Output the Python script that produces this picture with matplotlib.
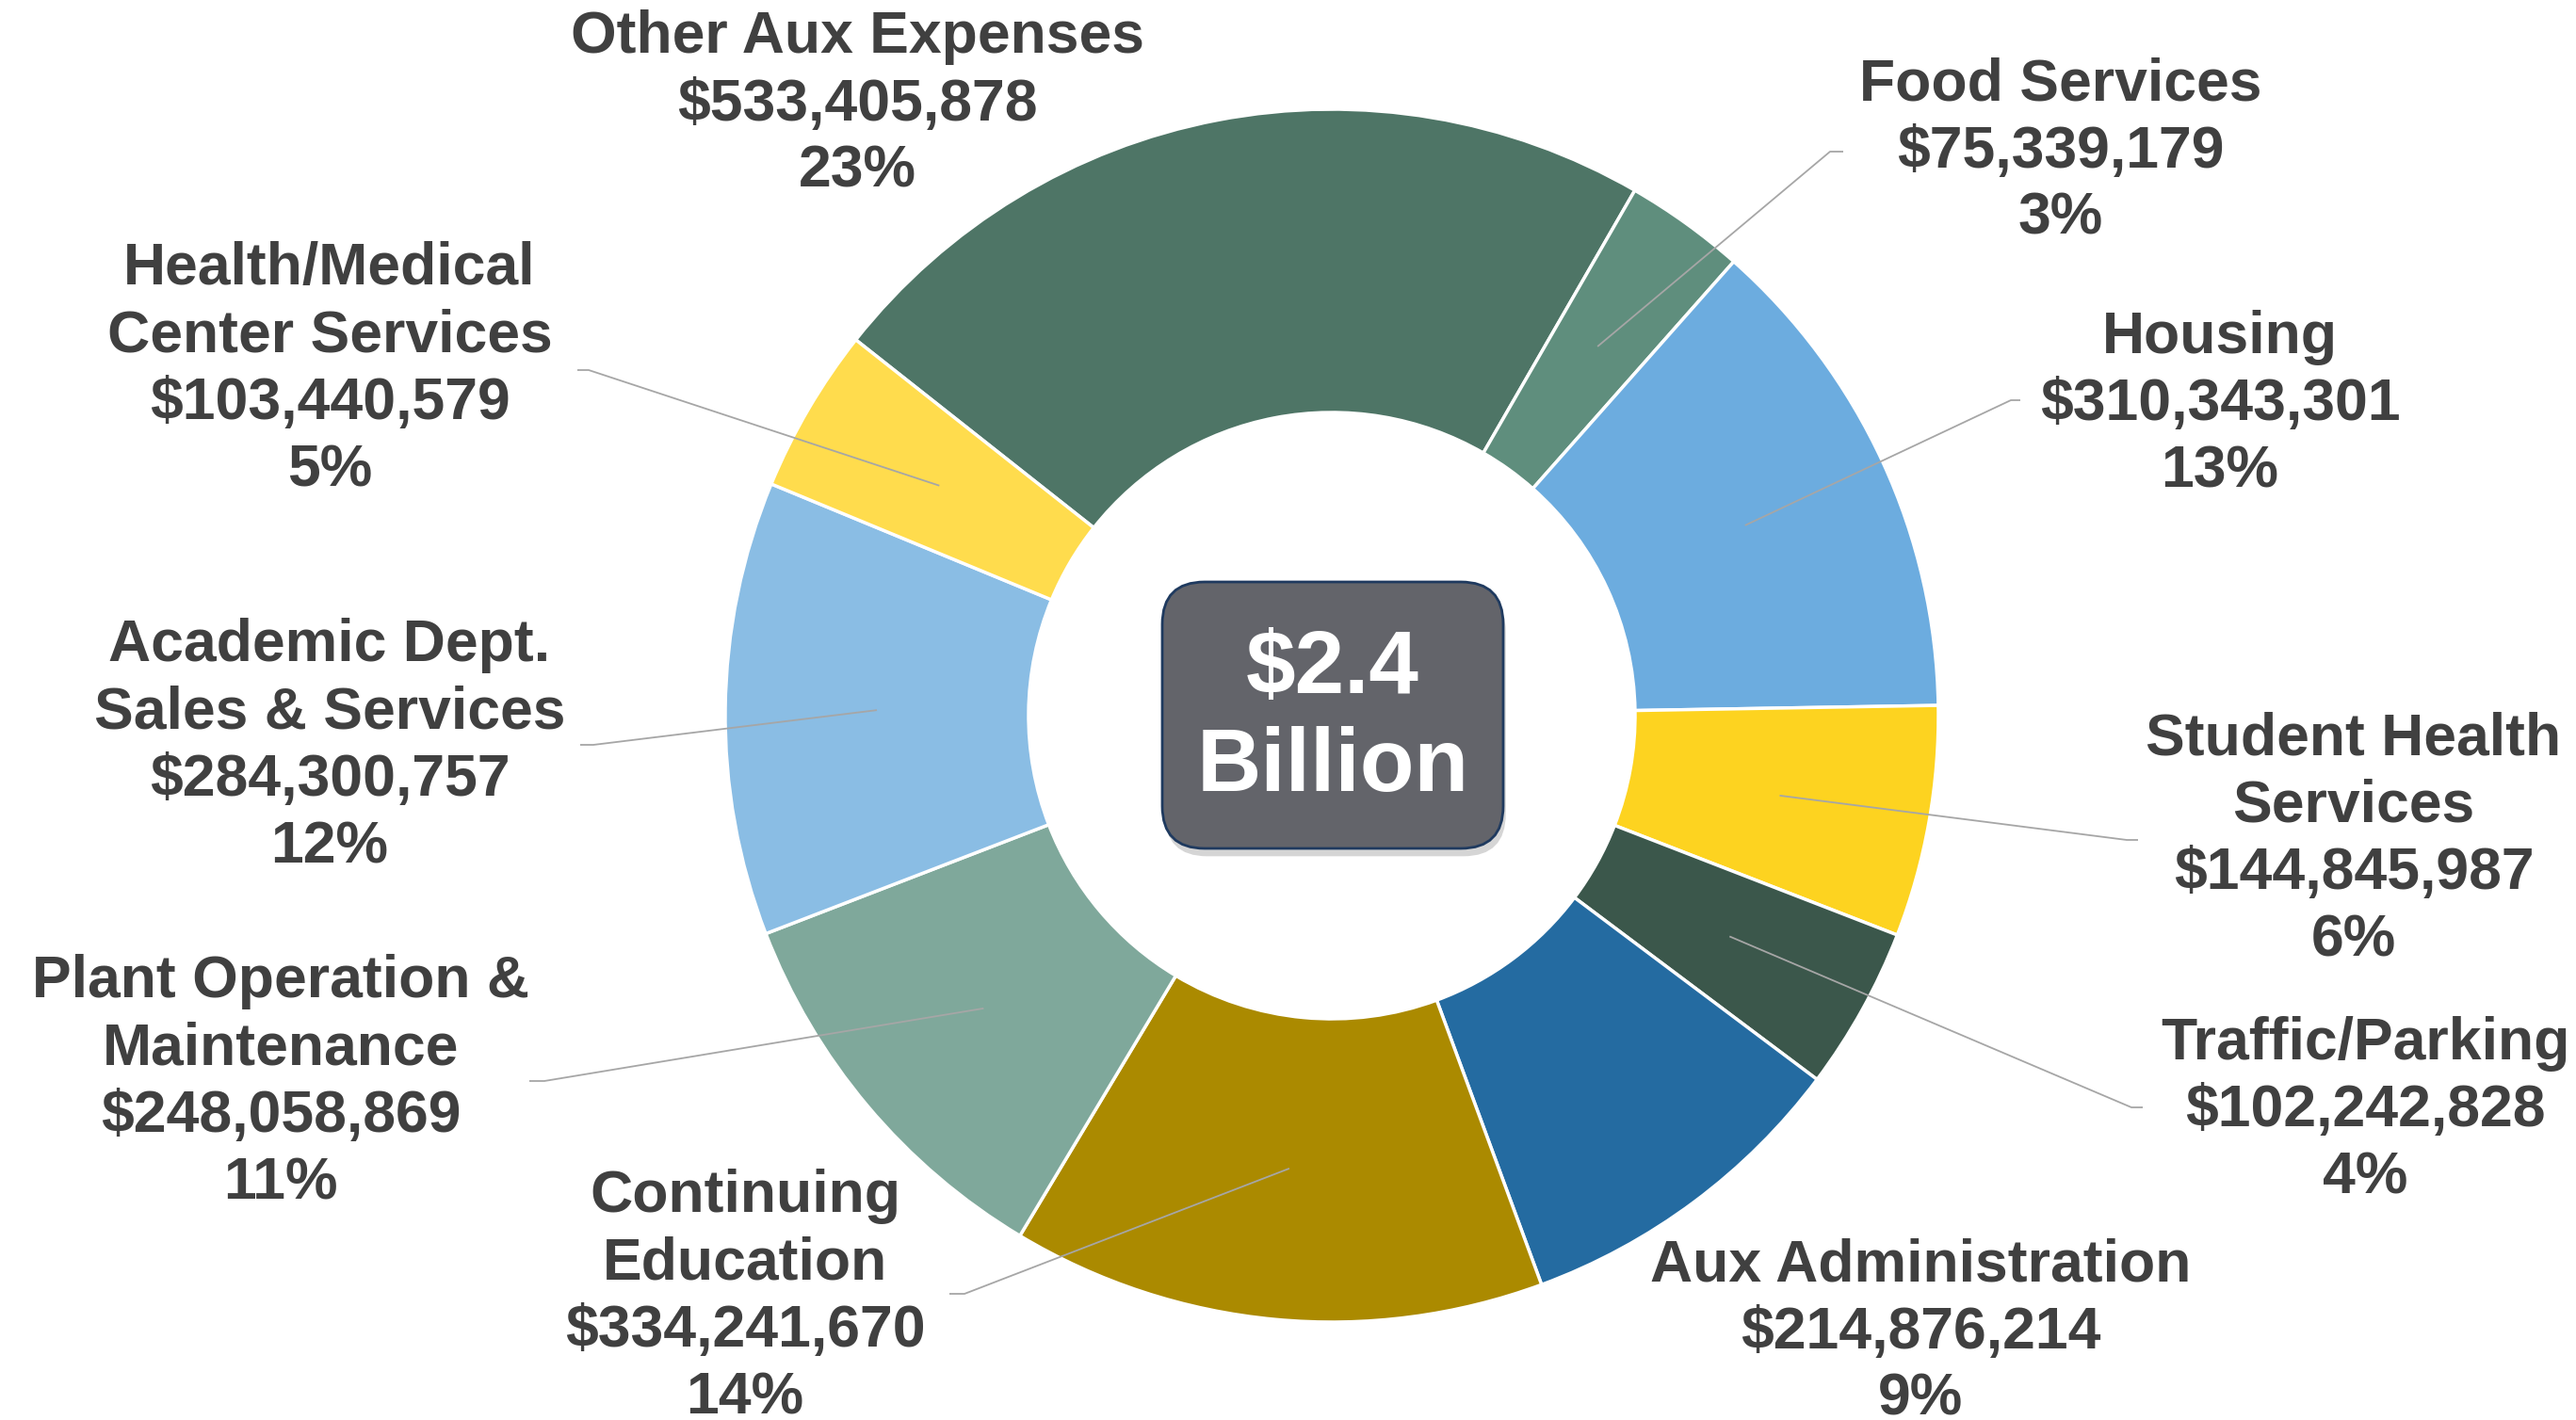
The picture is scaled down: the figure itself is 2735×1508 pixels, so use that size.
import numpy as np
import matplotlib
matplotlib.use("Agg")
import matplotlib.pyplot as plt
from matplotlib.patches import FancyBboxPatch
import matplotlib.patheffects as pe

plt.rcParams['font.family'] = ['Liberation Sans', 'DejaVu Sans']

# data, clockwise starting with Other Aux Expenses
names = ["Other Aux Expenses", "Food Services", "Housing", "Student Health\nServices",
         "Traffic/Parking", "Aux Administration", "Continuing\nEducation",
         "Plant Operation &\nMaintenance", "Academic Dept.\nSales & Services",
         "Health/Medical\nCenter Services"]
amounts = [533405878, 75339179, 310343301, 144845987, 102242828,
           214876214, 334241670, 248058869, 284300757, 103440579]
pct_labels = ["23%", "3%", "13%", "6%", "4%", "9%", "14%", "11%", "12%", "5%"]
colors = ["#4E7566", "#5F8E7D", "#6CACDF", "#FDD320", "#3B574B",
          "#246BA1", "#AB8A00", "#7FA89B", "#8ABDE4", "#FFDC4D"]
center_text = "$2.4\nBillion"

W, H = 2735, 1508
fig = plt.figure(figsize=(W / 100, H / 100), dpi=100)
ax = fig.add_axes([0, 0, 1, 1])
ax.set_xlim(0, W)
ax.set_ylim(0, H)
ax.set_aspect('equal')
ax.axis('off')

cx, cy, R = 1414, H - 760, 644
wedges, _ = ax.pie(amounts, colors=colors, startangle=141.7, counterclock=False,
                   center=(cx, cy), radius=R, frame=True,
                   wedgeprops=dict(width=R * 0.5, edgecolor='white', linewidth=2.5))
ax.set_xlim(0, W)
ax.set_ylim(0, H)
ax.axis('off')

# label positions (x, y from top) and leader elbows (None = no leader)
label_pos = [(910, 111), (2188, 161), (2357, 430), (2499, 892), (2511, 1180),
             (2039, 1415), (791, 1378), (298, 1150), (350, 793), (350, 393)]
elbows = [None, (1943, 161, 14), (2135, 425, 10), (2258, 892, 12), (2263, 1176, 12),
          None, (1024, 1374, -16), (578, 1148, -16), (630, 791, -14), (625, 393, -12)]

for w, name, amt, pct, (lx, ly), el in zip(wedges, names, amounts, pct_labels, label_pos, elbows):
    txt = f"{name}\n${amt:,}\n{pct}"
    ax.text(lx, H - ly, txt, ha='center', va='center', ma='center',
            fontsize=45, fontweight='bold', color='#404040', linespacing=1.27)
    if el is not None:
        mid = np.deg2rad((w.theta1 + w.theta2) / 2)
        sx = cx + 0.75 * R * np.cos(mid)
        sy = cy + 0.75 * R * np.sin(mid)
        ex, ey, tail = el
        ax.plot([sx, ex, ex + tail], [sy, H - ey, H - ey], color='#A6A6A6', lw=1.3,
                solid_capstyle='butt', zorder=3)

# center box
bx, by, bw, bh = 1234, H - 901, 362, 283
box = FancyBboxPatch((bx + 30, by + 30), bw - 60, bh - 60,
                     boxstyle="round,pad=30,rounding_size=45",
                     facecolor='#63646A', edgecolor='#1F3A5F', linewidth=2,
                     zorder=4,
                     path_effects=[pe.SimplePatchShadow(offset=(2, -6), shadow_rgbFace='#888888', alpha=0.35),
                                   pe.Normal()])
ax.add_patch(box)
ax.text(bx + bw / 2, by + bh / 2 - 4, center_text, ha='center', va='center', ma='center',
        fontsize=68, fontweight='bold', color='white', linespacing=1.22, zorder=5)

fig.savefig("out.png", dpi=100)
